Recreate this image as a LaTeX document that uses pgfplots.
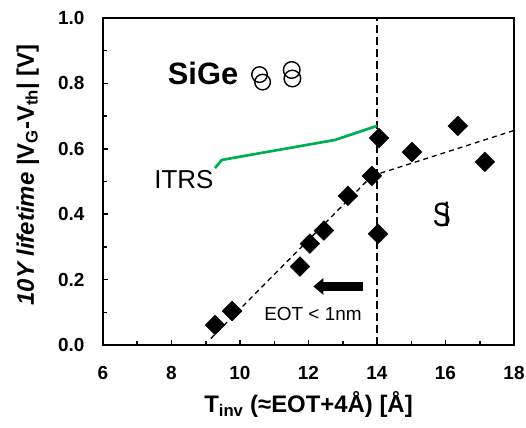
\documentclass[border=0pt]{standalone}
\usepackage{fontspec}
\setmainfont{Liberation Sans}
\usepackage{pgfplots}
\pgfplotsset{compat=1.18}
\usetikzlibrary{arrows.meta}
\definecolor{itrs}{RGB}{0,176,80}
\begin{document}
\begin{tikzpicture}
\begin{axis}[
  scale only axis, width=411bp, height=327bp,
  xmin=6, xmax=18, ymin=0, ymax=1,
  xtick={6,8,10,12,14,16,18},
  ytick={0,0.2,0.4,0.6,0.8,1.0},
  minor x tick num=1, minor y tick num=1,
  tick pos=left, tick align=inside,
  major tick length=5bp, minor tick length=4bp,
  axis line style={line width=2.6bp},
  every tick/.style={line width=1.5bp, black},
  /pgf/number format/assume math mode=true,
  xticklabel style={font=\fontsize{19}{19}\selectfont\bfseries, yshift=-18bp},
  yticklabel style={font=\fontsize{19}{19}\selectfont\bfseries, xshift=-15bp,
    /pgf/number format/.cd, fixed, fixed zerofill, precision=1},
  xlabel={T\textsubscript{inv} (≈EOT+4Å) [Å]},
  ylabel={\textit{10Y lifetime} |V\textsubscript{G}-V\textsubscript{th}| [V]},
  xlabel style={font=\fontsize{24}{24}\selectfont\bfseries, at={(axis description cs:0.5,-0.183)}, anchor=center},
  ylabel style={font=\fontsize{24}{24}\selectfont\bfseries, at={(axis description cs:-0.1825,0.52)}, anchor=center, rotate=0},
]
% fitted dashed lines
\addplot[black, line width=1.3bp, dash pattern=on 5bp off 4bp] coordinates {(9.15,0.02) (13.85,0.517)};
\addplot[black, line width=1.3bp, dash pattern=on 5bp off 4bp] coordinates {(13.85,0.517) (18,0.656)};
% vertical dashed line
\addplot[black, line width=2bp, dash pattern=on 8bp off 4bp] coordinates {(14,0) (14,1)};
% ITRS line
\addplot[itrs, line width=2.7bp] coordinates {(9.27,0.541) (9.47,0.566) (12.77,0.627) (14.0,0.67)};
% data
\addplot[only marks, mark=square*, mark size=7bp, mark options={rotate=45, fill=black, draw=black}] coordinates {
(9.27,0.061) (9.77,0.104) (11.75,0.24) (12.04,0.31) (12.45,0.35)
(13.15,0.456) (13.85,0.517) (14.06,0.633) (14.03,0.34)
(15.02,0.59) (16.36,0.67) (17.15,0.56)
};
% annotations
\node[font=\fontsize{31}{31}\selectfont\bfseries] at (axis cs:8.92,0.829) {SiGe};
\draw[line width=1.4bp] (axis cs:10.57,0.827) circle[radius=7.8bp];
\draw[line width=1.4bp] (axis cs:10.66,0.804) circle[radius=7.8bp];
\draw[line width=1.4bp] (axis cs:11.51,0.841) circle[radius=8.3bp];
\draw[line width=1.4bp] (axis cs:11.53,0.815) circle[radius=8.3bp];
\node[font=\fontsize{26}{26}\selectfont] at (axis cs:8.36,0.506) {ITRS};
\node[font=\fontsize{27}{27}\selectfont, yscale=1.25] at (axis cs:15.88,0.40) {S\kern-0.26em i};
\node[font=\fontsize{19}{19}\selectfont] at (axis cs:12.13,0.095) {EOT < 1nm};
\draw[line width=9bp, -{Triangle[length=10bp,width=16bp]}] (axis cs:13.6,0.179) -- (axis cs:12.14,0.179);
\end{axis}
\pgfresetboundingbox
\path[use as bounding box] ([xshift=-103bp,yshift=-83bp]current axis.south west) rectangle ([xshift=12bp,yshift=18bp]current axis.north east);
\end{tikzpicture}
\end{document}
